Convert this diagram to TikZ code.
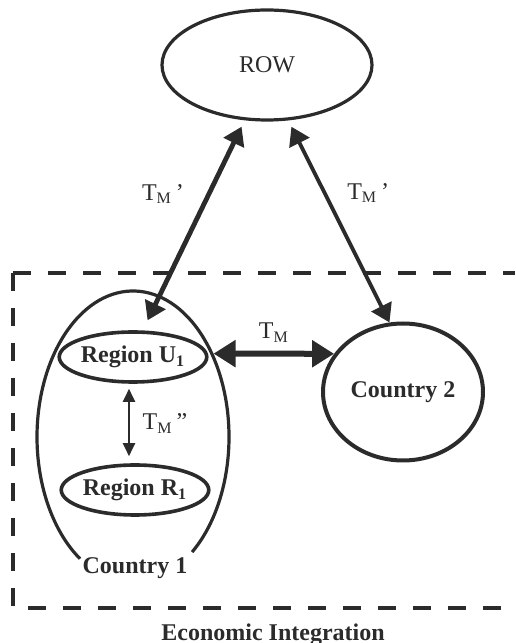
\documentclass[tikz,border=0pt]{standalone}
\usepackage{fontspec}
\setmainfont{Liberation Serif}
\usetikzlibrary{positioning,shapes.geometric,arrows.meta}
\definecolor{ink}{HTML}{2B2B2B}

\begin{document}
\begin{tikzpicture}[%
	x=0.5pt,
	y=0.5pt,
	every node/.style={text=ink, font=\fontsize{12}{14}\selectfont},
	>={Triangle[length=9pt,width=11pt]},
	area/.style={%
		ellipse,
		draw=ink,
		line width=1.6pt,
		inner sep=0pt
	},
	region/.style={%
		ellipse,
		draw=ink,
		line width=1.8pt,
		minimum width=68pt,
		minimum height=25pt,
		inner sep=0pt,
		font=\fontsize{12}{14}\selectfont\bfseries
	},
	title/.style={%
		anchor=base,
		font=\fontsize{12}{14}\selectfont\bfseries
	},
	link/.style={%
		<->,
		draw=ink,
		line width=2pt
	},
	border/.style={%
		draw=ink,
		line width=2pt,
		dash pattern=on 9pt off 8.5pt
	}
	]

	\useasboundingbox (0,0) rectangle (515,643);

	\node[area, minimum width=105pt, minimum height=55pt] (row) at (267,578) {ROW};
	\node[area, draw=none, minimum width=96pt, minimum height=146pt] (country1) at (133,206) {};
	\node[area, line width=2pt, minimum width=80pt, minimum height=68.5pt, font=\fontsize{12}{14}\selectfont\bfseries] (country2) at (403,251) {Country 2};
	\node[region] (u1) at (133,286) {Region U\textsubscript{1}};
	\node[region] (r1) at (135,153) {Region R\textsubscript{1}};
	\node[title] (c1label) at (135,69) {Country 1};
	\node[title] (econ) at (273,3) {Economic Integration};

	% open outline of country 1
	\draw[ink, line width=1.6pt] (country1.center) ++(-52:96 and 146)
		arc[start angle=-52, end angle=236.5, x radius=96, y radius=146];

	% economic integration area
	\draw[border] (13,370) -- (515,370);
	\draw[border] (13,370) -- (13,35) -- (515,35);

	\draw[link, line width=2.4pt, shorten <=3.5pt, shorten >=5.6pt] (row.248) -- node[pos=0.35, left=8pt] {T\textsubscript{M}\,’} (u1.70);
	\draw[link, line width=1.9pt, shorten <=3.5pt] (row.291) -- node[pos=0.36, right=7pt] {T\textsubscript{M}\,’} (country2.101);
	\draw[link, line width=3pt, >={Triangle[length=11pt,width=13pt]}] (country1.46) -- node[above=1pt] {T\textsubscript{M}} (country2.151);
	\draw[link, line width=1pt, >={Triangle[length=6.5pt,width=6pt]}, shorten <=2.5pt, shorten >=3.5pt]
		([xshift=-2pt]u1.south) -- node[right=3pt] {T\textsubscript{M}\,”} ([xshift=-2pt]u1.south |- r1.north);
\end{tikzpicture}
\end{document}
